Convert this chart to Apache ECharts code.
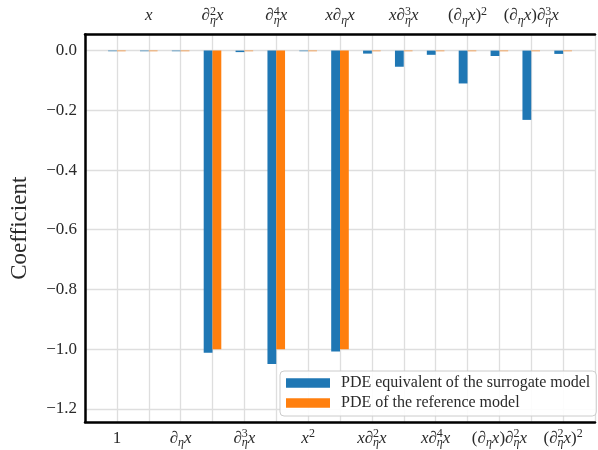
<!DOCTYPE html>
<html><head><meta charset="utf-8">
<script src="https://cdn.jsdelivr.net/npm/echarts@6/dist/echarts.min.js"></script>
<style>html,body{margin:0;padding:0;background:#fff}#c{width:598px;height:450px}</style>
</head><body><div id="c"></div>
<script>
// Library terms (mini markup: ^ superscript, _ subscript, "^k_η" stacked)
const terms = ['1','x','∂_ηx','∂^2_ηx','∂^3_ηx','∂^4_ηx','x^2','x∂_ηx','x∂^2_ηx','x∂^3_ηx','x∂^4_ηx','(∂_ηx)^2','(∂_ηx)∂^2_ηx','(∂_ηx)∂^3_ηx','(∂^2_ηx)^2'];
// Bottom tick labels (even terms) and top tick labels (odd terms)
const bottomTicks = ['1','∂_ηx','∂^3_ηx','x^2','x∂^2_ηx','x∂^4_ηx','(∂_ηx)∂^2_ηx','(∂^2_ηx)^2'];
const topTicks = ['x','∂^2_ηx','∂^4_ηx','x∂_ηx','x∂^3_ηx','(∂_ηx)^2','(∂_ηx)∂^3_ηx'];
const surrogate = [-0.002,-0.002,-0.002,-1.012,-0.005,-1.050,-0.002,-1.008,-0.010,-0.054,-0.014,-0.110,-0.018,-0.232,-0.011];
const reference = [-0.002,-0.002,-0.002,-1.000,-0.002,-1.000,-0.002,-1.000,-0.002,-0.002,-0.002,-0.002,-0.002,-0.002,-0.002];
const seriesNames = ['PDE equivalent of the surrogate model','PDE of the reference model'];
const yTicks = [0.0,-0.2,-0.4,-0.6,-0.8,-1.0,-1.2];

function toRich(s){
  let out='';
  for(let i=0;i<s.length;i++){
    const c=s[i];
    if(c==='^'){const ch=s[i+1]; if(s[i+2]==='_'){out+='{supS|'+ch+'}';} else {out+='{sup|'+ch+'}';} i+=1;}
    else if(c==='_'){out+='{sub|'+s[i+1]+'}'; i+=1;}
    else if('()0123456789'.indexOf(c)>=0){out+='{r|'+c+'}';}
    else out+='{m|'+c+'}';
  }
  return out;
}
const FF='"Liberation Serif", "Times New Roman", serif';
const TC='#2a2a2a';
const rich={
  m:{fontFamily:FF,fontStyle:'italic',fontSize:17,lineHeight:21,color:TC},
  r:{fontFamily:FF,fontSize:17,lineHeight:21,color:TC},
  sup:{fontFamily:FF,fontSize:12,lineHeight:11,verticalAlign:'top',color:TC},
  supS:{fontFamily:FF,fontSize:12,lineHeight:11,verticalAlign:'top',width:0,padding:[0,-3,0,3],color:TC},
  sub:{fontFamily:FF,fontStyle:'italic',fontSize:12,lineHeight:11,verticalAlign:'bottom',color:TC}
};
const cats=[' ',...terms,'  '];
const pad=a=>['-',...a,'-'];
const bottomSet={}; bottomTicks.forEach(t=>bottomSet[t]=1);
const topSet={}; topTicks.forEach(t=>topSet[t]=1);

const chart=echarts.init(document.getElementById('c'),null,{renderer:'canvas'});
chart.setOption({
  animation:false,
  backgroundColor:'#ffffff',
  grid:{left:83.6,top:34.5,width:517.6,height:387.5,containLabel:false},
  legend:{
    orient:'vertical',left:280,top:371,
    data:seriesNames,icon:'rect',itemWidth:44,itemHeight:9.5,itemGap:4,
    padding:[4,6,5,6],backgroundColor:'rgba(255,255,255,0.9)',borderColor:'#cccccc',borderWidth:1,borderRadius:4,
    textStyle:{fontFamily:FF,fontSize:16,color:TC,padding:[0,0,0,6]}
  },
  xAxis:[{
    type:'category',data:cats,boundaryGap:false,position:'bottom',
    axisLine:{onZero:false,lineStyle:{color:'#000',width:2.5}},axisTick:{show:false},
    splitLine:{show:true,interval:0,lineStyle:{color:'#dedede',width:1.3}},
    axisLabel:{interval:0,margin:6,formatter:v=>bottomSet[v]?toRich(v):'',rich:rich}
  },{
    type:'category',data:cats,boundaryGap:false,position:'top',
    axisLine:{onZero:false,lineStyle:{color:'#000',width:2.5}},axisTick:{show:false},splitLine:{show:false},
    axisLabel:{interval:0,margin:8,formatter:v=>topSet[v]?toRich(v):'',rich:rich}
  }],
  yAxis:{
    type:'value',min:-1.244,max:0.054,splitNumber:6,
    name:'Coefficient',nameLocation:'middle',nameGap:54,
    nameTextStyle:{fontFamily:FF,fontSize:23,color:TC},
    axisLine:{show:true,lineStyle:{color:'#000',width:2.5}},axisTick:{show:false},
    splitLine:{lineStyle:{color:'#dedede',width:1.3}},
    axisLabel:{showMinLabel:false,showMaxLabel:false,margin:8,fontFamily:FF,fontSize:17,color:TC,
      formatter:v=>{const r=Math.round(v*10)/10; return yTicks.indexOf(r)>=0&&Math.abs(v-r)<1e-6?r.toFixed(1).replace('-','\u2212'):'';}}
  },
  series:[
    {name:seriesNames[0],type:'bar',data:pad(surrogate),barWidth:8.8,barGap:'0%',itemStyle:{color:'#1f77b4'}},
    {name:seriesNames[1],type:'bar',data:pad(reference),barWidth:8.8,barGap:'0%',itemStyle:{color:'#ff7f0e'}}
  ]
});
</script></body></html>
